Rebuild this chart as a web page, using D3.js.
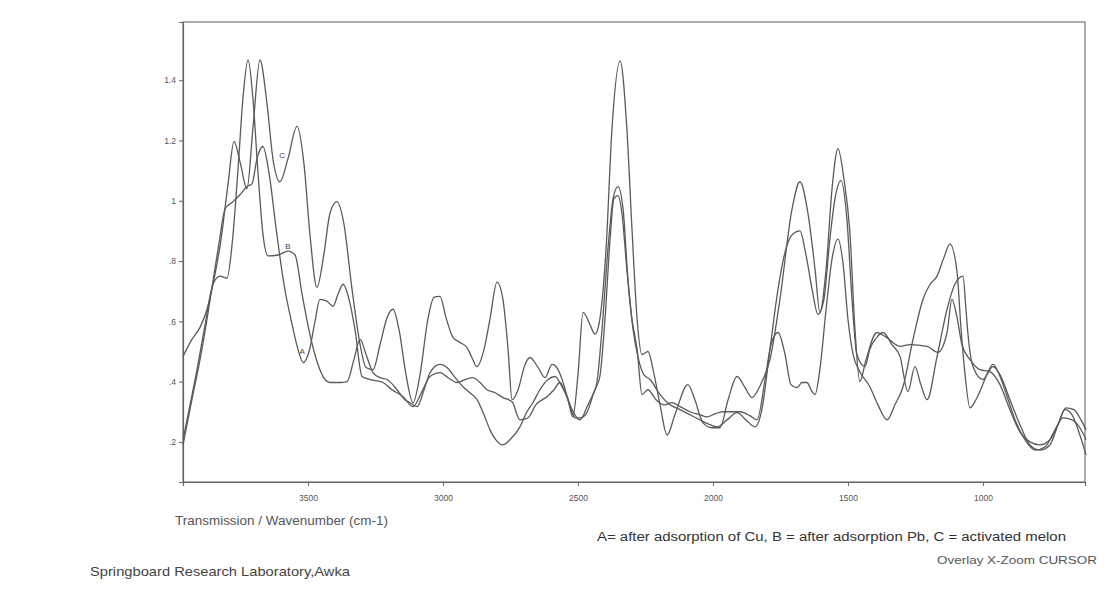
<!DOCTYPE html>
<html>
<head>
<meta charset="utf-8">
<script src="https://cdn.jsdelivr.net/npm/d3@7"></script>
<style>
  body { margin: 0; background: #fff; }
  svg { display: block; font-family: "Liberation Sans", Arial, sans-serif; }
</style>
</head>
<body>
<svg id="chart" width="1117" height="596"></svg>
<script>
// FTIR overlay: [wavenumber cm-1, transmission]
const seriesA = [
  [3963,0.19],[3930,0.34],[3900,0.473],[3874,0.607],[3852,0.733],[3830,0.857],[3807,0.973],[3778,0.997],
  [3752,1.02],[3726,1.047],[3707,1.057],[3689,1.14],[3667,1.18],[3644,1.09],[3618,0.907],[3589,0.723],
  [3559,0.59],[3537,0.507],[3518,0.463],[3496,0.5],[3474,0.6],[3456,0.673],[3430,0.667],[3407,0.65],
  [3389,0.69],[3370,0.723],[3348,0.673],[3326,0.573],[3300,0.417],[3270,0.407],[3222,0.397],[3189,0.373],
  [3148,0.35],[3111,0.317],[3078,0.367],[3048,0.417],[3011,0.43],[2981,0.413],[2948,0.397],[2918,0.407],
  [2889,0.413],[2863,0.397],[2837,0.373],[2807,0.363],[2778,0.347],[2744,0.333],[2715,0.273],[2685,0.28],
  [2656,0.323],[2615,0.35],[2589,0.373],[2567,0.397],[2544,0.357],[2522,0.307],[2493,0.273],[2463,0.323],
  [2437,0.373],[2419,0.417],[2400,0.607],[2381,0.873],[2367,1.007],[2352,1.017],[2337,0.957],[2319,0.773],
  [2300,0.607],[2281,0.507],[2263,0.357],[2241,0.373],[2211,0.34],[2181,0.323],[2152,0.33],[2122,0.317],
  [2085,0.3],[2048,0.29],[2022,0.283],[1993,0.293],[1963,0.3],[1930,0.3],[1900,0.3],[1863,0.287],
  [1837,0.273],[1807,0.407],[1785,0.523],[1759,0.563],[1733,0.49],[1711,0.39],[1689,0.38],[1670,0.397],
  [1652,0.397],[1633,0.367],[1622,0.357],[1604,0.44],[1581,0.64],[1559,0.807],[1537,0.873],[1518,0.79],
  [1500,0.607],[1481,0.49],[1456,0.433],[1419,0.383],[1389,0.323],[1355,0.273],[1326,0.323],[1296,0.383],
  [1259,0.54],[1222,0.673],[1196,0.723],[1170,0.75],[1144,0.813],[1122,0.857],[1096,0.763],[1081,0.573],
  [1067,0.43],[1048,0.313],[1026,0.34],[1004,0.383],[981,0.433],[963,0.457],[944,0.433],[919,0.373],
  [881,0.273],[844,0.207],[807,0.173],[770,0.183],[733,0.24],[704,0.28],[670,0.273],[641,0.247],[618,0.207]
];

const seriesB = [
  [3963,0.207],[3937,0.323],[3911,0.44],[3881,0.59],[3852,0.723],[3826,0.75],[3800,0.743],[3781,0.857],
  [3759,1.107],[3741,1.34],[3722,1.467],[3704,1.34],[3685,1.09],[3667,0.89],[3648,0.817],[3611,0.82],
  [3574,0.833],[3548,0.82],[3522,0.69],[3493,0.557],[3463,0.457],[3437,0.407],[3419,0.397],[3381,0.397],
  [3355,0.4],[3330,0.473],[3307,0.54],[3285,0.49],[3259,0.43],[3233,0.413],[3207,0.407],[3170,0.373],
  [3141,0.34],[3122,0.33],[3096,0.317],[3070,0.373],[3048,0.43],[3011,0.457],[2985,0.447],[2955,0.413],
  [2926,0.383],[2900,0.363],[2874,0.34],[2848,0.29],[2826,0.24],[2804,0.207],[2778,0.19],[2752,0.207],
  [2715,0.25],[2689,0.3],[2667,0.33],[2641,0.373],[2611,0.407],[2585,0.417],[2563,0.39],[2541,0.35],
  [2511,0.28],[2489,0.28],[2467,0.297],[2444,0.357],[2430,0.397],[2411,0.573],[2389,0.84],[2370,1.007],
  [2352,1.047],[2333,0.973],[2315,0.74],[2296,0.573],[2278,0.483],[2256,0.423],[2233,0.407],[2196,0.357],
  [2159,0.323],[2122,0.307],[2085,0.29],[2048,0.273],[2011,0.257],[1985,0.25],[1948,0.273],[1911,0.297],
  [1878,0.273],[1844,0.25],[1819,0.307],[1789,0.507],[1759,0.707],[1730,0.84],[1704,0.89],[1678,0.9],
  [1656,0.823],[1633,0.707],[1611,0.623],[1589,0.673],[1567,0.873],[1548,1.007],[1526,1.067],[1504,0.94],
  [1485,0.673],[1467,0.49],[1437,0.45],[1419,0.507],[1393,0.547],[1370,0.563],[1337,0.523],[1307,0.483],
  [1278,0.367],[1252,0.45],[1230,0.39],[1207,0.34],[1170,0.483],[1133,0.64],[1104,0.723],[1074,0.75],
  [1063,0.64],[1056,0.563],[1037,0.45],[1000,0.407],[963,0.45],[937,0.423],[900,0.34],[863,0.257],
  [826,0.19],[789,0.173],[752,0.19],[722,0.257],[693,0.313],[663,0.307],[637,0.273],[618,0.24]
];

const seriesC = [
  [3963,0.483],[3930,0.54],[3900,0.58],[3874,0.64],[3848,0.74],[3822,0.873],[3796,1.057],[3774,1.197],
  [3752,1.13],[3726,1.04],[3704,1.24],[3678,1.467],[3652,1.323],[3630,1.14],[3604,1.063],[3574,1.14],
  [3541,1.247],[3515,1.123],[3493,0.89],[3467,0.713],[3441,0.823],[3419,0.957],[3393,0.997],[3367,0.923],
  [3337,0.707],[3307,0.523],[3285,0.447],[3259,0.44],[3233,0.523],[3207,0.613],[3185,0.64],[3163,0.573],
  [3137,0.423],[3111,0.33],[3085,0.423],[3056,0.607],[3033,0.68],[3011,0.683],[2989,0.613],[2963,0.547],
  [2937,0.53],[2911,0.513],[2893,0.48],[2874,0.45],[2848,0.507],[2826,0.607],[2800,0.73],[2778,0.673],
  [2759,0.507],[2744,0.34],[2722,0.373],[2696,0.457],[2678,0.48],[2648,0.447],[2622,0.413],[2596,0.457],
  [2574,0.44],[2556,0.4],[2537,0.34],[2519,0.283],[2500,0.423],[2481,0.63],[2456,0.59],[2437,0.557],
  [2419,0.607],[2396,0.84],[2374,1.24],[2344,1.463],[2319,1.24],[2300,0.907],[2281,0.607],[2263,0.49],
  [2241,0.5],[2218,0.423],[2196,0.323],[2170,0.223],[2141,0.29],[2093,0.39],[2067,0.34],[2037,0.263],
  [2004,0.247],[1974,0.247],[1944,0.34],[1911,0.417],[1881,0.38],[1856,0.347],[1833,0.373],[1815,0.407],
  [1789,0.473],[1752,0.673],[1707,0.973],[1678,1.063],[1648,0.957],[1622,0.773],[1604,0.63],[1581,0.773],
  [1559,1.04],[1537,1.173],[1515,1.073],[1493,0.897],[1474,0.573],[1456,0.4],[1433,0.473],[1393,0.563],
  [1363,0.55],[1307,0.517],[1270,0.523],[1207,0.517],[1167,0.497],[1133,0.563],[1115,0.673],[1096,0.613],
  [1078,0.523],[1048,0.473],[1011,0.44],[974,0.433],[937,0.39],[900,0.307],[863,0.233],[826,0.2],
  [789,0.19],[752,0.207],[722,0.257],[696,0.307],[670,0.29],[641,0.223],[618,0.157]
];

const xTicks = [3500, 3000, 2500, 2000, 1500, 1000];
const yTicks = [0.2, 0.4, 0.6, 0.8, 1, 1.2, 1.4];
const curveLabels = [["C", 3596, 1.15], ["B", 3574, 0.85], ["A", 3522, 0.5]];

const svg = d3.select("#chart");
const margin = {left: 183, right: 1085, top: 22, bottom: 482};

const x = d3.scaleLinear().domain([3963, 622]).range([margin.left, margin.right]);
const y = d3.scaleLinear().domain([0.067, 1.593]).range([margin.bottom, margin.top]);

// frame
svg.append("rect")
  .attr("x", margin.left).attr("y", margin.top)
  .attr("width", margin.right - margin.left)
  .attr("height", margin.bottom - margin.top)
  .attr("fill", "none")
  .attr("stroke", "#777")
  .attr("stroke-width", 1.2);

const fmt = d => d >= 1 ? d3.format("~g")(d) : d3.format(".1f")(d).replace(/^0/, "");

const yAxis = svg.append("g")
  .attr("transform", `translate(${margin.left},0)`)
  .call(d3.axisLeft(y).tickValues(yTicks).tickFormat(fmt).tickSize(4).tickPadding(3));

const xAxis = svg.append("g")
  .attr("transform", `translate(0,${margin.bottom})`)
  .call(d3.axisBottom(x).tickValues(xTicks).tickFormat(d3.format("d")).tickSize(4).tickPadding(9));

[yAxis, xAxis].forEach(g => {
  g.select(".domain").attr("stroke", "#666").attr("stroke-width", 1.2);
  g.selectAll(".tick line").attr("stroke", "#666");
  g.selectAll("text").attr("fill", "#555").style("font-size", "8.5px");
});

const line = d3.line()
  .x(d => x(d[0]))
  .y(d => y(d[1]))
  .curve(d3.curveMonotoneX);

svg.append("g")
  .selectAll("path")
  .data([seriesA, seriesB, seriesC])
  .join("path")
  .attr("d", d => line(d.slice().reverse()))
  .attr("fill", "none")
  .attr("stroke", "#5a5a5a")
  .attr("stroke-width", 1.3)
  .attr("stroke-linejoin", "round");

svg.append("g")
  .selectAll("text")
  .data(curveLabels)
  .join("text")
  .attr("x", d => x(d[1]))
  .attr("y", d => y(d[2]))
  .attr("text-anchor", "middle")
  .attr("dy", "0.35em")
  .attr("fill", "#444")
  .style("font-size", "8px")
  .text(d => d[0]);

// texts under the plot (scan type is wide, so stretch glyphs)
const notes = [
  {t: "Transmission / Wavenumber (cm-1)", x: 175, y: 525, w: 213, s: 12, c: "#555"},
  {t: "A= after adsorption of Cu, B = after adsorption Pb, C = activated melon", x: 597, y: 541, w: 469, s: 12.5, c: "#333"},
  {t: "Overlay X-Zoom CURSOR", x: 937, y: 564, w: 160, s: 11.5, c: "#555"},
  {t: "Springboard Research Laboratory,Awka", x: 90, y: 576, w: 260, s: 13.5, c: "#444"}
];

svg.append("g")
  .selectAll("text")
  .data(notes)
  .join("text")
  .attr("x", d => d.x)
  .attr("y", d => d.y)
  .attr("fill", d => d.c)
  .attr("textLength", d => d.w)
  .attr("lengthAdjust", "spacingAndGlyphs")
  .style("font-size", d => d.s + "px")
  .text(d => d.t);
</script>
</body>
</html>
